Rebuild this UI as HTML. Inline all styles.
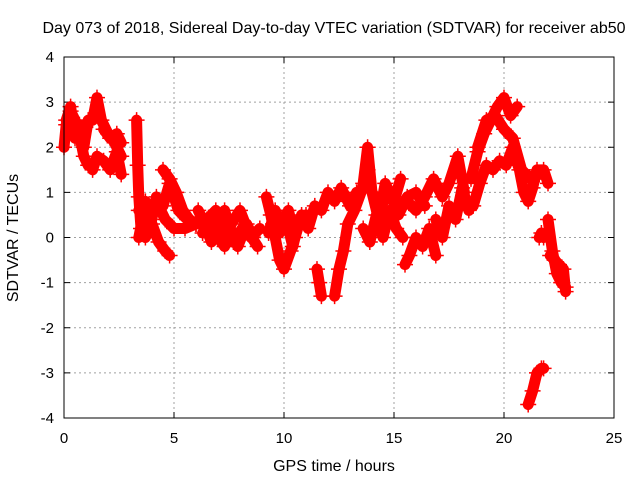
<!DOCTYPE html>
<html><head><meta charset="utf-8"><style>
body{margin:0;background:#fff}
svg{display:block;font-family:"Liberation Sans",sans-serif}
</style></head><body>
<svg id="chart" width="640" height="480">
<rect width="640" height="480" fill="#fff"/>
<text x="334" y="33" font-size="16" text-anchor="middle">Day 073 of 2018, Sidereal Day-to-day VTEC variation (SDTVAR) for receiver ab50</text>
<text x="334" y="471" font-size="16" text-anchor="middle">GPS time / hours</text>
<text transform="translate(18,238) rotate(-90)" font-size="16" text-anchor="middle">SDTVAR / TECUs</text>
<g id="grid"></g><g id="marks"></g>
<rect x="64" y="57" width="550" height="361" fill="none" stroke="#000"/>
</svg>
<script>
const xTicks=[0,5,10,15,20,25];
const yTicks=[-4,-3,-2,-1,0,1,2,3,4];
const tA=[0.0,0.1,0.3,0.5,0.7,0.9,1.1];            const vA=[2.0,2.5,2.8,2.6,2.3,1.8,1.6];
const tB=[0.1,0.3,0.5,0.7,0.9,1.1];                const vB=[2.6,2.9,2.2,2.5,2.0,2.6];
const tC=[1.3,1.5,1.7,2.0,2.3,2.6];                const vC=[2.6,3.1,2.6,2.3,2.1,1.8];
const tD=[1.3,1.5,1.8,2.1,2.4,2.6];                const vD=[1.5,1.8,1.7,1.5,1.9,1.4];
const tE=[1.8,2.1,2.4,2.6];                        const vE=[2.4,2.2,2.3,2.1];
const tF=[3.3,3.35,3.4,3.5,3.7,4.0,4.3,4.6,4.8];   const vF=[2.6,1.6,0.9,0.2,0.0,0.3,-0.1,-0.3,-0.4];
const tG=[3.4,3.7,4.0,4.3,4.6,5.0,5.5,6.0];        const vG=[0.6,0.8,0.5,0.7,0.4,0.2,0.2,0.3];
const tH=[4.5,4.8,5.1,5.4,5.7,6.0];                const vH=[1.5,1.3,1.0,0.6,0.4,0.3];
const tI=[6.1,6.4,6.7,7.0,7.3,7.6,7.9,8.3,8.6];    const vI=[0.6,0.3,-0.1,0.3,0.6,0.1,-0.2,0.3,0.0];
const tJ=[6.3,6.6,7.0,7.3,7.6,8.0,8.4,8.8];        const vJ=[0.1,0.4,0.0,-0.2,0.3,0.6,0.1,-0.2];
const tK=[9.2,9.4,9.6,9.8,10.0,10.3,10.6];         const vK=[0.9,0.5,0.0,-0.5,-0.7,-0.3,0.2];
const tL=[9.3,9.6,9.9,10.2,10.5,10.8,11.1,11.4];   const vL=[0.1,0.6,0.3,0.6,0.0,0.5,0.2,0.7];
const tM=[11.5,11.6,11.7];                         const vM=[-0.7,-1.0,-1.3];
const tN=[12.3,12.5,12.7,12.9,13.2,13.5,13.8];     const vN=[-1.3,-0.7,-0.3,0.3,0.6,1.0,1.5];
const tO=[11.7,12.0,12.3,12.6,13.0,13.3];          const vO=[0.6,1.0,0.8,1.1,0.7,1.0];
const tP=[13.6,13.8,14.0,14.3,14.6,15.0,15.3];     const vP=[1.2,2.0,1.0,0.4,1.2,0.8,1.3];
const tQ=[13.6,13.9,14.2,14.5,14.8,15.1,15.4];     const vQ=[0.2,-0.1,0.5,0.0,0.6,0.2,0.0];
const tR=[15.5,15.7,16.0,16.3,16.6,16.9];          const vR=[-0.6,-0.4,0.0,-0.2,0.2,-0.4];
const tS=[15.6,16.0,16.4,16.8,17.2,17.5,17.9,18.2];const vS=[0.8,0.6,0.9,1.3,0.9,1.2,1.8,1.0];
const tT=[16.9,17.2,17.5,17.8,18.1,18.4];          const vT=[0.4,0.0,0.7,0.4,1.1,0.6];
const tU=[18.5,18.8,19.1,19.4,19.7,20.0,20.3,20.6];const vU=[1.3,1.9,2.3,2.6,2.9,3.1,2.7,2.9];
const tV=[18.6,18.9,19.2,19.5,19.8,20.1,20.4];     const vV=[0.7,1.2,1.6,1.5,1.7,1.6,2.0];
const tW=[20.5,20.7,20.9,21.1,21.3,21.5,21.8,22.0];const vW=[1.8,1.5,1.0,0.8,1.1,1.5,1.5,1.2];
const tX=[22.0,22.2,22.4,22.6,22.8];               const vX=[0.4,-0.3,-0.8,-1.0,-1.1];
const tY=[21.6,21.7,21.8];                         const vY=[0.0,0.1,0.0];
const tZ=[21.1,21.3,21.5,21.7,21.8];               const vZ=[-3.7,-3.4,-3.0,-2.9,-2.9];
const t2=[3.4,3.6,3.9,4.2,4.5,4.8,5.2,5.6];        const v2=[0.0,0.5,0.2,0.9,0.7,1.2,0.6,0.4];
const t3=[6.5,6.9,7.3,7.7,8.1,8.5,8.9];            const v3=[0.4,0.6,0.2,-0.1,0.2,0.0,0.2];
const t4=[9.5,9.8,10.1,10.4,10.7,11.0];            const v4=[0.3,0.1,0.4,-0.2,0.4,0.5];
const t5=[14.0,14.4,14.8,15.2,15.6,16.0,16.4];     const v5=[1.0,0.7,1.0,0.5,0.9,1.0,0.7];
const t6=[18.8,19.2,19.6,20.0,20.4,20.8,21.2,21.6];const v6=[2.0,2.6,2.7,2.4,2.2,1.5,1.3,1.4];
const t7=[22.1,22.3,22.5,22.7,22.8];               const v7=[-0.4,-0.5,-0.6,-0.7,-1.2];
const tracks=[[tA,vA],[tB,vB],[tC,vC],[tD,vD],[tE,vE],[tF,vF],[tG,vG],[tH,vH],[tI,vI],[tJ,vJ],[tK,vK],[tL,vL],[tM,vM],[tN,vN],[tO,vO],[tP,vP],[tQ,vQ],[tR,vR],[tS,vS],[tT,vT],[tU,vU],[tV,vV],[tW,vW],[tX,vX],[tY,vY],[tZ,vZ],[t2,v2],[t3,v3],[t4,v4],[t5,v5],[t6,v6],[t7,v7]];
const X=t=>64+t*22, Y=v=>237.5-v*45.125;
const NS='http://www.w3.org/2000/svg';
const grid=document.getElementById('grid'), marks=document.getElementById('marks');
function mk(tag,attrs,parent){const e=document.createElementNS(NS,tag);for(const k in attrs)e.setAttribute(k,attrs[k]);parent.appendChild(e);return e;}
xTicks.forEach(t=>{
  const x=X(t);
  if(t>0&&t<25){const g=mk('line',{x1:x,x2:x,y1:57,y2:418,stroke:'#a0a0a0','stroke-dasharray':'2,3'},grid);
  
  }
  mk('line',{x1:x,x2:x,y1:418,y2:412,stroke:'#000'},grid);mk('line',{x1:x,x2:x,y1:57,y2:63,stroke:'#000'},grid);
  const l=mk('text',{x:x,y:443,'font-size':15,'text-anchor':'middle'},grid);l.textContent=t;
  
  
});
yTicks.forEach(v=>{
  const y=Y(v);
  if(v>-4&&v<4){const g=mk('line',{x1:64,x2:614,y1:y,y2:y,stroke:'#a0a0a0','stroke-dasharray':'2,3'},grid);
  
  }
  mk('line',{x1:64,x2:70,y1:y,y2:y,stroke:'#000'},grid);mk('line',{x1:608,x2:614,y1:y,y2:y,stroke:'#000'},grid);
  const l=mk('text',{x:54,y:y+5,'font-size':15,'text-anchor':'end'},grid);l.textContent=v;
  
  
});
tracks.forEach(([ts,vs])=>{
  const pts=ts.map((t,i)=>X(t)+','+Y(vs[i])).join(' ');
  const pl=mk('polyline',{points:pts,fill:'none',stroke:'#f00','stroke-width':11,'stroke-linejoin':'round','stroke-linecap':'round'},marks);
  
  
  ts.forEach((t,i)=>{
    const x=X(t),y=Y(vs[i]);
    const p=mk('path',{d:`M${x-8},${y}H${x+8}M${x},${y-8}V${y+8}`,stroke:'#f00','stroke-width':1.5},marks);
    
    
  });
});
</script>
</body></html>
